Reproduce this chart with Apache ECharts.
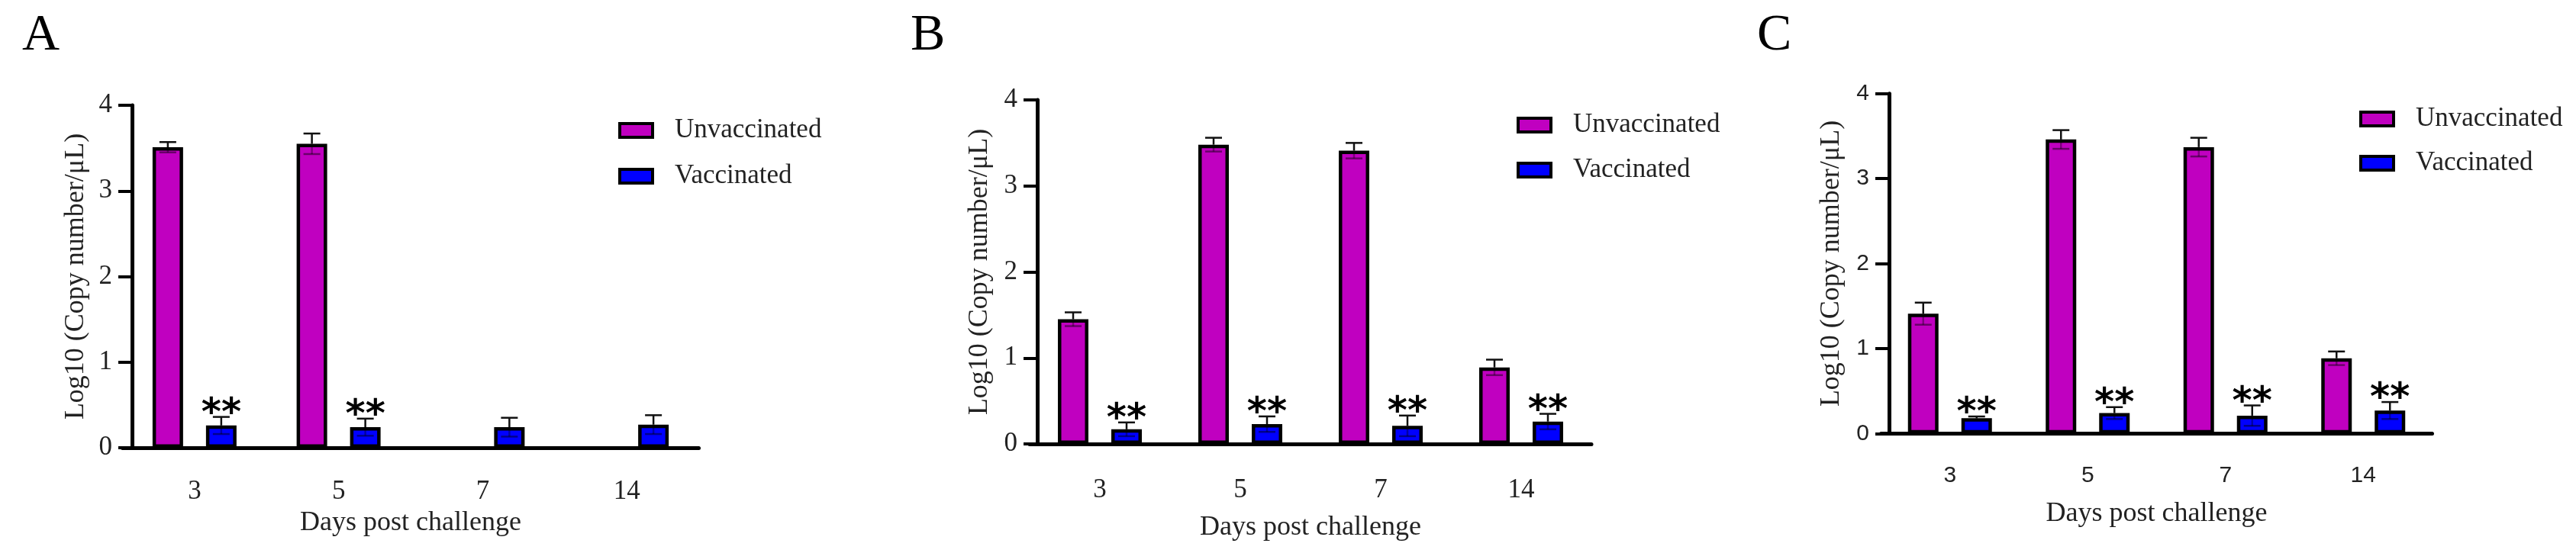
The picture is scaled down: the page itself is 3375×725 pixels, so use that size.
<!DOCTYPE html>
<html><head><meta charset="utf-8">
<script src="https://cdn.jsdelivr.net/npm/echarts@6/dist/echarts.min.js"></script>
<style>html,body{margin:0;padding:0;background:#fff}#c{width:3375px;height:725px}</style>
</head><body><div id="c"></div>
<script>
// ---------- data ----------
const days = ['3', '5', '7', '14'];
const yTicks = [0, 1, 2, 3, 4];
const seriesNames = ['Unvaccinated', 'Vaccinated'];
const panelLetters = ['A', 'B', 'C'];
const xTitle = 'Days post challenge';
const yTitle = 'Log10 (Copy number/\u03bcL)';

const unvacA = [3.51, 3.55, null, null];
const unvacSdA = [0.06, 0.12, null, null];
const vacA = [0.26, 0.24, 0.24, 0.27];
const vacSdA = [0.10, 0.10, 0.11, 0.11];
const sigA = ['**', '**', '', ''];

const unvacB = [1.45, 3.48, 3.41, 0.89];
const unvacSdB = [0.08, 0.08, 0.09, 0.09];
const vacB = [0.17, 0.23, 0.21, 0.26];
const vacSdB = [0.08, 0.09, 0.12, 0.09];
const sigB = ['**', '**', '**', '**'];

const unvacC = [1.41, 3.46, 3.37, 0.885];
const unvacSdC = [0.13, 0.11, 0.11, 0.08];
const vacC = [0.18, 0.24, 0.21, 0.27];
const vacSdC = [0.02, 0.07, 0.12, 0.10];
const sigC = ['**', '**', '**', '**'];

// ---------- styling / layout ----------
const COL_UN = '#c000c0', COL_VA = '#0000ff', TXT = '#222';
const SERIF = '"Liberation Serif", "Times New Roman", serif';
const SANS = '"Liberation Sans", Arial, sans-serif';
const BAR_W = 40, BAR_GAP = 0.75;
const BAR_OFF = BAR_W * (1 + BAR_GAP) / 2;

const panels = [
  { un: unvacA, unSd: unvacSdA, va: vacA, vaSd: vacSdA, sig: sigA,
    left: 160.5, width: 755, top: 138, bottom0: 587, yOff: -12.5, tickFont: SERIF, tickSize: 35,
    legLeft: 805, legTop: 146, legGap: 20, letterLeft: 24, xGap: 81, yGap: 55, labMargin: 40 },
  { un: unvacB, unSd: unvacSdB, va: vacB, vaSd: vacSdB, sig: sigB,
    left: 1349, width: 736, top: 131, bottom0: 582, yOff: -10, tickFont: SERIF, tickSize: 35,
    legLeft: 1982, legTop: 139, legGap: 19, letterLeft: 1188, xGap: 92, yGap: 57, labMargin: 43 },
  { un: unvacC, unSd: unvacSdC, va: vacC, vaSd: vacSdC, sig: sigC,
    left: 2464.5, width: 722, top: 122.7, bottom0: 568.3, yOff: -10.5, tickFont: SANS, tickSize: 30,
    legLeft: 3086, legTop: 131, legGap: 18, letterLeft: 2297, xGap: 87, yGap: 57, labMargin: 40 }
];

function errRender(means, sds, sigs, side) {
  return function (params, api) {
    const i = api.value(0);
    const m = means[i], s = sds[i];
    if (m == null) return;
    const c = api.coord([i, m]);
    const x = c[0] + side * BAR_OFF;
    const yt = api.coord([i, m + s])[1];
    const yb = api.coord([i, m - s])[1];
    const ch = [
      { type: 'line', shape: { x1: x, y1: yt, x2: x, y2: c[1] }, style: { stroke: '#111', lineWidth: 2.5 } },
      { type: 'line', shape: { x1: x - 11, y1: yt, x2: x + 11, y2: yt }, style: { stroke: '#111', lineWidth: 2.5 } },
      { type: 'line', shape: { x1: x, y1: c[1], x2: x, y2: yb }, style: { stroke: 'rgba(0,0,0,0.35)', lineWidth: 2.5 } },
      { type: 'line', shape: { x1: x - 11, y1: yb, x2: x + 11, y2: yb }, style: { stroke: 'rgba(0,0,0,0.45)', lineWidth: 2.5 } }
    ];
    if (sigs && sigs[i]) {
      ch.push({ type: 'text', style: { text: sigs[i], x: x, y: yt + 22, align: 'center', verticalAlign: 'bottom',
        font: 'bold 50px "DejaVu Sans"', fill: '#000' } });
    }
    return { type: 'group', children: ch };
  };
}

const option = { backgroundColor: '#fff', animation: false,
  title: [], grid: [], xAxis: [], yAxis: [], legend: [], series: [] };

panels.forEach((p, k) => {
  option.title.push({ text: panelLetters[k], left: p.letterLeft, top: 8,
    textStyle: { fontFamily: SERIF, fontSize: 68, fontWeight: 'normal', color: '#000' } });
  option.grid.push({ left: p.left, width: p.width, top: p.top, height: p.bottom0 - p.top });
  option.xAxis.push({ type: 'category', gridIndex: k, data: days,
    name: xTitle, nameLocation: 'middle', nameGap: p.xGap,
    nameTextStyle: { fontFamily: SERIF, fontSize: 36, color: TXT },
    axisLine: { lineStyle: { color: '#000', width: 5 } },
    axisTick: { alignWithLabel: true, length: 20, lineStyle: { color: '#000', width: 4 } },
    axisLabel: { fontFamily: p.tickFont, fontSize: p.tickSize, color: TXT, margin: p.labMargin } });
  option.yAxis.push({ type: 'value', gridIndex: k, min: yTicks[0], max: yTicks[yTicks.length - 1], interval: 1,
    offset: p.yOff,
    name: yTitle, nameLocation: 'middle', nameRotate: 90, nameGap: p.yGap,
    nameTextStyle: { fontFamily: SERIF, fontSize: 36, color: TXT },
    axisLine: { show: true, lineStyle: { color: '#000', width: 5 } },
    axisTick: { show: true, length: 18, lineStyle: { color: '#000', width: 4 } },
    splitLine: { show: false },
    axisLabel: { fontFamily: p.tickFont, fontSize: p.tickSize, color: TXT, margin: 26 } });
  option.legend.push({ data: seriesNames, orient: 'vertical', left: p.legLeft, top: p.legTop,
    itemGap: p.legGap, itemWidth: 43, itemHeight: 18, icon: 'rect',
    itemStyle: { borderColor: '#000', borderWidth: 4 },
    textStyle: { fontFamily: SERIF, fontSize: 35, color: TXT, lineHeight: 40, padding: [0, 0, 0, 24] } });
  option.series.push({ type: 'bar', name: seriesNames[0], xAxisIndex: k, yAxisIndex: k,
    data: p.un, barWidth: BAR_W, barGap: (BAR_GAP * 100) + '%',
    itemStyle: { color: COL_UN, borderColor: '#000', borderWidth: 4.5 }, z: 2 });
  option.series.push({ type: 'bar', name: seriesNames[1], xAxisIndex: k, yAxisIndex: k,
    data: p.va, barWidth: BAR_W, barGap: (BAR_GAP * 100) + '%',
    itemStyle: { color: COL_VA, borderColor: '#000', borderWidth: 4.5 }, z: 2 });
  option.series.push({ type: 'custom', xAxisIndex: k, yAxisIndex: k, z: 5,
    renderItem: errRender(p.un, p.unSd, null, -1),
    data: days.map((d, i) => [i, p.un[i] == null ? 0 : p.un[i]]), encode: { x: 0, y: 1 } });
  option.series.push({ type: 'custom', xAxisIndex: k, yAxisIndex: k, z: 5,
    renderItem: errRender(p.va, p.vaSd, p.sig, 1),
    data: days.map((d, i) => [i, p.va[i] == null ? 0 : p.va[i]]), encode: { x: 0, y: 1 } });
});

const chart = echarts.init(document.getElementById('c'), null, { renderer: 'canvas' });
chart.setOption(option);
</script></body></html>
